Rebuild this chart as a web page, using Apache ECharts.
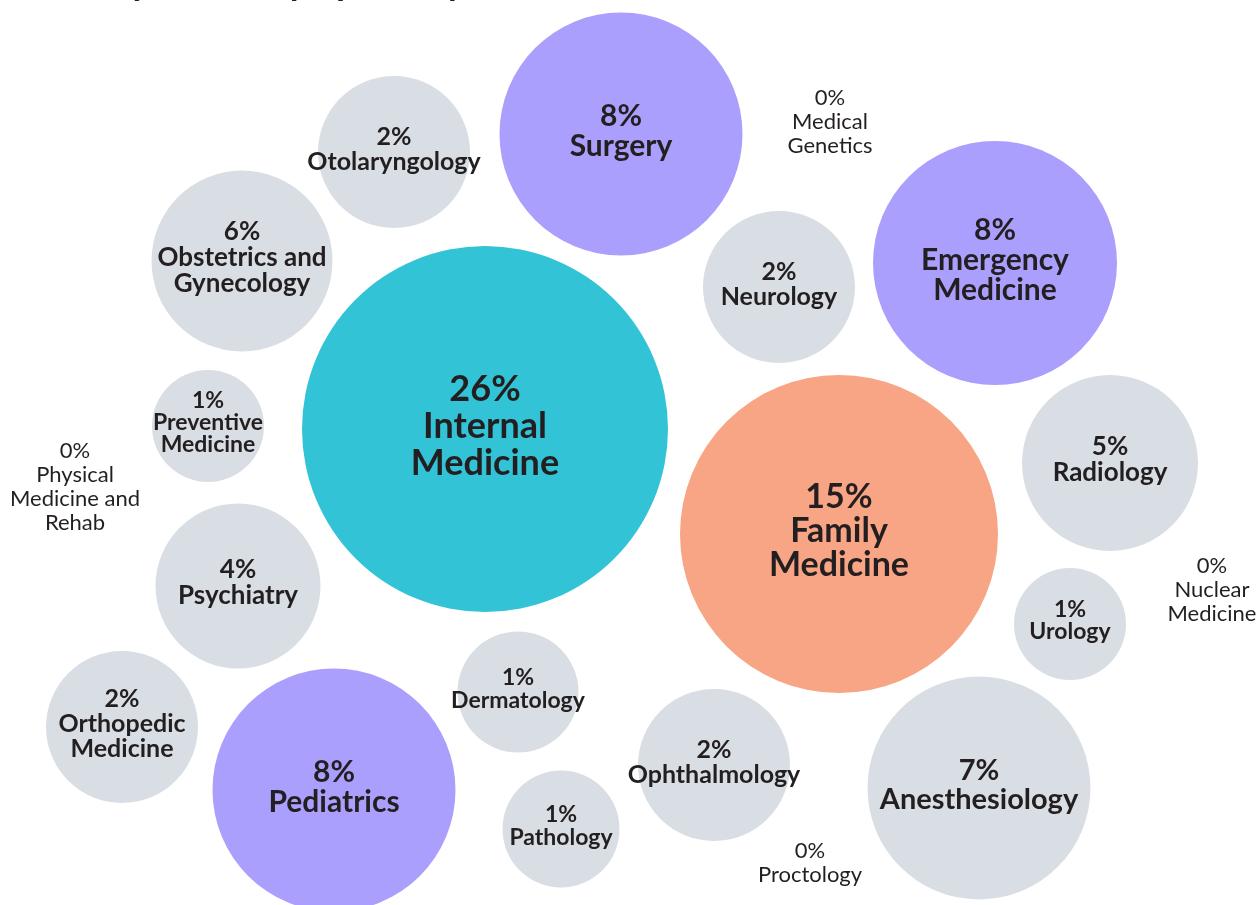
<!DOCTYPE html>
<html>
<head>
<meta charset="utf-8">
<script src="https://cdn.jsdelivr.net/npm/echarts@6/dist/echarts.min.js"></script>
<style>
  html, body { margin: 0; padding: 0; background: #fff; }
  #chart { width: 1257px; height: 905px; }
</style>
</head>
<body>
<div id="chart"></div>
<script>
// specialties with a bubble (share in %, bubble centre on the layout axes, bubble diameter)
const names = ['Internal\nMedicine', 'Family\nMedicine', 'Surgery', 'Emergency\nMedicine', 'Pediatrics',
  'Anesthesiology', 'Obstetrics and\nGynecology', 'Radiology', 'Psychiatry', 'Otolaryngology',
  'Neurology', 'Orthopedic\nMedicine', 'Ophthalmology', 'Dermatology', 'Pathology',
  'Preventive\nMedicine', 'Urology']
const shares = [26, 15, 8, 8, 8, 7, 6, 5, 4, 2, 2, 2, 2, 1, 1, 1, 1]
const posX = [485, 839, 621, 995, 334, 979, 242, 1110, 238, 394, 779, 122, 714, 518, 561, 208, 1070]
const posY = [429, 534, 134, 263, 790, 788, 261, 463, 586, 152, 287, 727, 765, 692, 829, 426, 624]
const diameters = [366, 318, 243, 244, 243, 223, 181, 176, 165, 152, 152, 152, 152, 121, 117, 112, 112]

// specialties too small for a bubble, just a label
const zeroNames = ['Medical\nGenetics', 'Physical\nMedicine and\nRehab', 'Nuclear\nMedicine', 'Proctology']
const zeroShares = [0, 0, 0, 0]
const zeroX = [830, 75, 1212, 810]
const zeroY = [122, 487, 590, 863]

const chart = echarts.init(document.getElementById('chart'))

function colorFor(v) {
  if (v >= 20) return '#32C3D6'
  if (v >= 10) return '#F7A584'
  if (v >= 8) return '#AB9FFD'
  return '#D9DEE4'
}

const bubbles = names.map((n, i) => {
  const fs = Math.round(17 + diameters[i] * 0.052)
  return {
    name: n,
    value: [posX[i], posY[i], shares[i]],
    symbolSize: diameters[i],
    itemStyle: { color: colorFor(shares[i]), opacity: 1 },
    label: { fontSize: fs, lineHeight: Math.round(16 + diameters[i] * 0.058) }
  }
})

const zeros = zeroNames.map((n, i) => ({
  name: n,
  value: [zeroX[i], zeroY[i], zeroShares[i]]
}))

const option = {
  animation: false,
  title: {
    text: 'Physicians by Specialty',
    left: 82,
    top: -40,
    textStyle: { fontFamily: 'Lato', fontWeight: 'bold', fontSize: 37, color: '#231F20' }
  },
  grid: { left: 0, right: 0, top: 0, bottom: 0 },
  xAxis: { type: 'value', min: 0, max: 1257, show: false },
  yAxis: { type: 'value', min: 0, max: 905, inverse: true, show: false },
  series: [{
    type: 'scatter',
    clip: false,
    data: bubbles,
    emphasis: { disabled: true },
    label: {
      show: true,
      position: 'inside',
      offset: [0, -3],
      color: '#231F20',
      fontFamily: 'Lato',
      fontWeight: 'bold',
      align: 'center',
      formatter: p => p.value[2] + '%\n' + p.name
    }
  }, {
    type: 'scatter',
    symbolSize: 0,
    data: zeros,
    itemStyle: { opacity: 1 },
    emphasis: { disabled: true },
    label: {
      show: true,
      position: 'inside',
      color: '#231F20',
      opacity: 1,
      fontFamily: 'Lato',
      fontSize: 22,
      lineHeight: 24,
      align: 'center',
      formatter: p => p.value[2] + '%\n' + p.name
    }
  }]
}

chart.setOption(option)
</script>
</body>
</html>
